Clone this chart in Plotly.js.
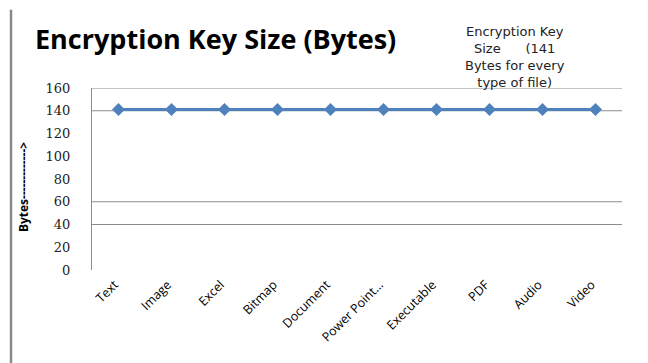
<!DOCTYPE html>
<html>
<head>
<meta charset="utf-8">
<script src="https://cdn.plot.ly/plotly-3.0.1.min.js"></script>
<style>html,body{margin:0;padding:0;background:#fff;}#chart{width:648px;height:363px;}</style>
</head>
<body>
<div id="chart"></div>
<script>
const categories = ["Text","Image","Excel","Bitmap","Document","Power Point…","Executable","PDF","Audio","Video"];
const keySizes = [141,141,141,141,141,141,141,141,141,141];
const yTickValues = [0,20,40,60,80,100,120,140,160];
const gridValues = [160,140,60,40];
const chartTitle = "Encryption Key Size (Bytes)";
const seriesLabel = ["Encryption Key","Size\u00A0\u00A0\u00A0\u00A0\u00A0\u00A0(141","Bytes for every","type of file)"];
const yTitle = "Bytes------------->";

const shapes = gridValues.map(v => ({
  type: "line", xref: "paper", yref: "y", x0: 0, x1: 1, y0: v, y1: v,
  line: {color: "#8c8c8c", width: 1}, layer: "below"
}));
shapes.push({type: "line", xref: "paper", yref: "paper", x0: -0.1528, x1: -0.1528, y0: -0.52, y1: 1.43,
  line: {color: "#8a8a8a", width: 2.5}});

const trace = {
  x: categories, y: keySizes, type: "scatter", mode: "lines+markers",
  line: {color: "#4F81BD", width: 3},
  marker: {symbol: "diamond", size: 10, color: "#4F81BD"},
  showlegend: false, hoverinfo: "skip"
};

const layout = {
  width: 648, height: 363,
  margin: {l: 92, r: 26, t: 88, b: 93},
  paper_bgcolor: "#fff", plot_bgcolor: "#fff",
  showlegend: false,
  title: {text: "<b>" + chartTitle + "</b>", xref: "container", yref: "container",
    x: 0.054, xanchor: "left", y: 0.89, yanchor: "middle",
    font: {family: "Open Sans", size: 27, color: "#000"}},
  xaxis: {type: "category", range: [-0.5, 9.5], showgrid: false, zeroline: false, showline: false,
    ticks: "", tickangle: -45, automargin: false, ticklabelshift: -4, ticklabelstandoff: 4,
    tickfont: {family: "Open Sans", size: 12.5, color: "#000"}},
  yaxis: {range: [0,160], tickvals: yTickValues, ticktext: yTickValues.map(String),
    showgrid: false, zeroline: false, showline: true, linecolor: "#8c8c8c", linewidth: 1,
    ticks: "", ticklabelstandoff: 18, automargin: false,
    tickfont: {family: "DejaVu Serif", size: 13, color: "#222"}},
  shapes: shapes,
  annotations: [{
    text: seriesLabel.join("<br>"), xref: "paper", yref: "paper",
    x: 0.798, y: 1.17, xanchor: "center", yanchor: "middle", showarrow: false,
    align: "center", font: {family: "DejaVu Sans", size: 13, color: "#222"}
  }, {
    text: "<b>" + yTitle + "</b>", xref: "paper", yref: "paper",
    x: -0.130, y: 0.456, xanchor: "center", yanchor: "middle", textangle: -90, showarrow: false,
    font: {family: "Open Sans", size: 12, color: "#000"}
  }]
};

Plotly.newPlot("chart", [trace], layout, {displayModeBar: false, staticPlot: true});
</script>
</body>
</html>
